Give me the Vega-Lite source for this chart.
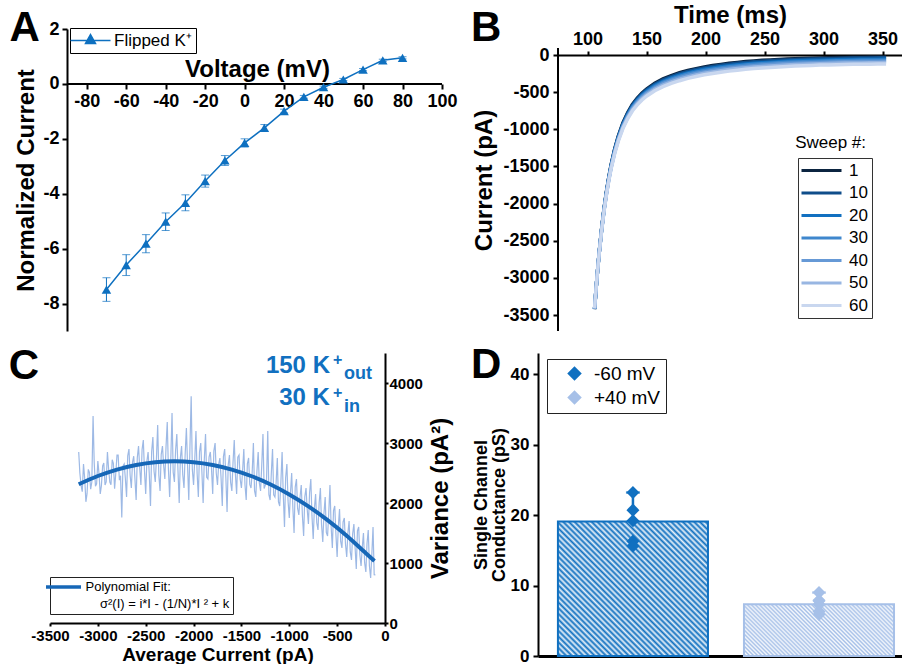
{
"$schema": "https://vega.github.io/schema/vega-lite/v6.json",
"padding": {"left": 8, "top": 3, "right": 0, "bottom": 0},
"autosize": {"type": "pad"},
"background": "white",
"spacing": 12,
"resolve": {"scale": {"color": "independent"}, "legend": {"color": "independent"}},
"config": {
  "font": "Liberation Sans",
  "view": {"stroke": null},
  "axis": {"labelFont": "Liberation Sans", "titleFont": "Liberation Sans", "labelFontWeight": "bold", "titleFontWeight": "bold", "labelColor": "black", "titleColor": "black", "domainColor": "black", "tickColor": "black", "domainWidth": 2, "tickWidth": 2, "grid": false, "labelFlush": false, "labelOverlap": false, "labelBound": false},
  "legend": {"labelFont": "Liberation Sans", "labelColor": "black", "labelFontWeight": "normal"},
  "text": {"font": "Liberation Sans"}
},
"datasets": {
  "iv": [{"V":-70,"I":-7.49,"err":0.43},{"V":-60,"I":-6.6,"err":0.38},{"V":-50,"I":-5.82,"err":0.33},{"V":-40,"I":-5.02,"err":0.32},{"V":-30,"I":-4.33,"err":0.29},{"V":-20,"I":-3.54,"err":0.22},{"V":-10,"I":-2.79,"err":0.18},{"V":0,"I":-2.15,"err":0.15},{"V":10,"I":-1.6,"err":0.12},{"V":20,"I":-0.99,"err":0.07},{"V":30,"I":-0.47,"err":0.05},{"V":40,"I":-0.12,"err":0.04},{"V":50,"I":0.16,"err":0.04},{"V":60,"I":0.52,"err":0.04},{"V":70,"I":0.86,"err":0.04},{"V":80,"I":0.95,"err":0.04}],
  "sweeps": [
    {"t":106,"1":-3420,"10":-3419,"20":-3417,"30":-3415,"40":-3414,"50":-3412,"60":-3410},
    {"t":107,"1":-3202,"10":-3202,"20":-3201,"30":-3201,"40":-3200,"50":-3200,"60":-3199},
    {"t":108,"1":-3000,"10":-3000,"20":-3001,"30":-3001,"40":-3001,"50":-3002,"60":-3002},
    {"t":109,"1":-2815,"10":-2816,"20":-2817,"30":-2819,"40":-2820,"50":-2821,"60":-2823},
    {"t":110,"1":-2643,"10":-2645,"20":-2647,"30":-2649,"40":-2652,"50":-2654,"60":-2657},
    {"t":112,"1":-2336,"10":-2339,"20":-2343,"30":-2346,"40":-2350,"50":-2354,"60":-2359},
    {"t":114,"1":-2070,"10":-2074,"20":-2080,"30":-2084,"40":-2090,"50":-2096,"60":-2102},
    {"t":116,"1":-1845,"10":-1850,"20":-1857,"30":-1863,"40":-1870,"50":-1877,"60":-1885},
    {"t":118,"1":-1648,"10":-1654,"20":-1662,"30":-1669,"40":-1677,"50":-1686,"60":-1695},
    {"t":120,"1":-1478,"10":-1484,"20":-1494,"30":-1502,"40":-1511,"50":-1520,"60":-1531},
    {"t":123,"1":-1269,"10":-1276,"20":-1287,"30":-1296,"40":-1306,"50":-1317,"60":-1329},
    {"t":126,"1":-1096,"10":-1104,"20":-1116,"30":-1127,"40":-1138,"50":-1150,"60":-1164},
    {"t":130,"1":-915,"10":-924,"20":-937,"30":-949,"40":-962,"50":-975,"60":-990},
    {"t":134,"1":-777,"10":-787,"20":-802,"30":-814,"40":-828,"50":-843,"60":-859},
    {"t":138,"1":-667,"10":-677,"20":-693,"30":-706,"40":-721,"50":-737,"60":-754},
    {"t":142,"1":-583,"10":-594,"20":-611,"30":-624,"40":-640,"50":-657,"60":-675},
    {"t":146,"1":-514,"10":-525,"20":-543,"30":-557,"40":-573,"50":-590,"60":-609},
    {"t":150,"1":-458,"10":-470,"20":-487,"30":-502,"40":-518,"50":-536,"60":-555},
    {"t":157,"1":-381,"10":-393,"20":-411,"30":-426,"40":-444,"50":-462,"60":-482},
    {"t":164,"1":-322,"10":-334,"20":-353,"30":-369,"40":-386,"50":-405,"60":-426},
    {"t":171,"1":-277,"10":-290,"20":-309,"30":-324,"40":-342,"50":-361,"60":-382},
    {"t":178,"1":-239,"10":-252,"20":-271,"30":-287,"40":-305,"50":-325,"60":-346},
    {"t":185,"1":-208,"10":-221,"20":-240,"30":-256,"40":-274,"50":-294,"60":-315},
    {"t":192,"1":-183,"10":-196,"20":-215,"30":-231,"40":-249,"50":-269,"60":-290},
    {"t":199,"1":-161,"10":-174,"20":-193,"30":-209,"40":-227,"50":-246,"60":-267},
    {"t":206,"1":-142,"10":-155,"20":-174,"30":-190,"40":-208,"50":-227,"60":-248},
    {"t":213,"1":-126,"10":-139,"20":-158,"30":-174,"40":-192,"50":-211,"60":-232},
    {"t":220,"1":-112,"10":-125,"20":-144,"30":-159,"40":-177,"50":-196,"60":-217},
    {"t":227,"1":-100,"10":-112,"20":-131,"30":-147,"40":-164,"50":-183,"60":-204},
    {"t":234,"1":-89,"10":-101,"20":-120,"30":-136,"40":-153,"50":-172,"60":-193},
    {"t":241,"1":-80,"10":-92,"20":-111,"30":-126,"40":-144,"50":-162,"60":-183},
    {"t":248,"1":-72,"10":-84,"20":-103,"30":-118,"40":-136,"50":-154,"60":-175},
    {"t":255,"1":-66,"10":-78,"20":-96,"30":-111,"40":-129,"50":-147,"60":-167},
    {"t":262,"1":-60,"10":-72,"20":-90,"30":-105,"40":-122,"50":-140,"60":-160},
    {"t":269,"1":-54,"10":-66,"20":-84,"30":-99,"40":-116,"50":-134,"60":-154},
    {"t":276,"1":-50,"10":-62,"20":-79,"30":-94,"40":-111,"50":-128,"60":-148},
    {"t":283,"1":-46,"10":-58,"20":-75,"30":-90,"40":-107,"50":-124,"60":-144},
    {"t":290,"1":-43,"10":-55,"20":-72,"30":-87,"40":-103,"50":-121,"60":-140},
    {"t":297,"1":-40,"10":-52,"20":-69,"30":-83,"40":-100,"50":-117,"60":-136},
    {"t":304,"1":-37,"10":-49,"20":-66,"30":-80,"40":-97,"50":-114,"60":-133},
    {"t":311,"1":-35,"10":-46,"20":-64,"30":-78,"40":-94,"50":-111,"60":-130},
    {"t":318,"1":-33,"10":-44,"20":-62,"30":-76,"40":-92,"50":-109,"60":-128},
    {"t":325,"1":-31,"10":-42,"20":-60,"30":-74,"40":-90,"50":-107,"60":-126},
    {"t":332,"1":-29,"10":-41,"20":-58,"30":-72,"40":-89,"50":-106,"60":-125},
    {"t":339,"1":-28,"10":-39,"20":-57,"30":-71,"40":-87,"50":-104,"60":-123},
    {"t":346,"1":-27,"10":-38,"20":-56,"30":-70,"40":-86,"50":-103,"60":-122},
    {"t":353,"1":-26,"10":-37,"20":-55,"30":-69,"40":-85,"50":-102,"60":-121}
  ],
  "noise": [
    {"I":-3200,"v":2850},{"I":-3175,"v":2290},{"I":-3150,"v":2650},{"I":-3125,"v":2020},{"I":-3100,"v":2560},{"I":-3075,"v":2230},{"I":-3050,"v":3450},{"I":-3025,"v":2280},{"I":-3000,"v":2700},{"I":-2975,"v":2150},
    {"I":-2950,"v":2620},{"I":-2925,"v":2300},{"I":-2900,"v":2850},{"I":-2875,"v":2350},{"I":-2850,"v":2720},{"I":-2825,"v":2240},{"I":-2800,"v":2800},{"I":-2775,"v":2380},{"I":-2750,"v":1760},{"I":-2725,"v":2650},
    {"I":-2700,"v":2100},{"I":-2675,"v":2900},{"I":-2650,"v":2250},{"I":-2625,"v":2780},{"I":-2600,"v":2050},{"I":-2575,"v":2950},{"I":-2550,"v":2300},{"I":-2525,"v":3050},{"I":-2500,"v":2150},{"I":-2475,"v":2850},
    {"I":-2450,"v":1950},{"I":-2425,"v":3100},{"I":-2400,"v":2350},{"I":-2375,"v":3300},{"I":-2350,"v":2200},{"I":-2325,"v":2950},{"I":-2300,"v":2400},{"I":-2275,"v":3350},{"I":-2250,"v":2100},{"I":-2225,"v":3500},
    {"I":-2200,"v":2350},{"I":-2175,"v":3150},{"I":-2150,"v":2000},{"I":-2125,"v":2950},{"I":-2100,"v":2250},{"I":-2075,"v":3250},{"I":-2050,"v":2050},{"I":-2025,"v":3780},{"I":-2000,"v":2300},{"I":-1975,"v":3200},
    {"I":-1950,"v":2100},{"I":-1925,"v":3000},{"I":-1900,"v":2000},{"I":-1875,"v":3150},{"I":-1850,"v":2400},{"I":-1825,"v":2850},{"I":-1800,"v":2150},{"I":-1775,"v":3000},{"I":-1750,"v":2300},{"I":-1725,"v":2750},
    {"I":-1700,"v":1950},{"I":-1675,"v":2900},{"I":-1650,"v":1850},{"I":-1625,"v":2800},{"I":-1600,"v":2200},{"I":-1575,"v":3050},{"I":-1550,"v":2150},{"I":-1525,"v":2800},{"I":-1500,"v":2250},{"I":-1475,"v":2900},
    {"I":-1450,"v":2050},{"I":-1425,"v":2750},{"I":-1400,"v":2250},{"I":-1375,"v":3000},{"I":-1350,"v":2100},{"I":-1325,"v":2850},{"I":-1300,"v":2200},{"I":-1275,"v":3150},{"I":-1250,"v":2300},{"I":-1225,"v":3200},
    {"I":-1200,"v":2050},{"I":-1175,"v":2900},{"I":-1150,"v":2100},{"I":-1125,"v":2750},{"I":-1100,"v":1950},{"I":-1075,"v":2850},{"I":-1050,"v":1600},{"I":-1025,"v":2650},{"I":-1000,"v":1750},{"I":-975,"v":2500},
    {"I":-950,"v":1500},{"I":-925,"v":2400},{"I":-900,"v":1800},{"I":-875,"v":2300},{"I":-850,"v":1450},{"I":-825,"v":2250},{"I":-800,"v":1650},{"I":-775,"v":2400},{"I":-750,"v":1400},{"I":-725,"v":2150},
    {"I":-700,"v":1550},{"I":-675,"v":2250},{"I":-650,"v":1350},{"I":-625,"v":2100},{"I":-600,"v":1450},{"I":-575,"v":2300},{"I":-550,"v":1250},{"I":-525,"v":1950},{"I":-500,"v":1100},{"I":-475,"v":1900},
    {"I":-450,"v":1250},{"I":-425,"v":1750},{"I":-400,"v":1100},{"I":-375,"v":1700},{"I":-350,"v":1050},{"I":-325,"v":1650},{"I":-300,"v":900},{"I":-275,"v":1600},{"I":-250,"v":950},{"I":-225,"v":1500},
    {"I":-200,"v":850},{"I":-175,"v":1550},{"I":-150,"v":750},{"I":-125,"v":1600},{"I":-100,"v":800},
    {"I":-3188,"v":2500},{"I":-3163,"v":2190},{"I":-3138,"v":2420},{"I":-3113,"v":2155},{"I":-3088,"v":2510},{"I":-3063,"v":2350},{"I":-3038,"v":2665},{"I":-3013,"v":2320},{"I":-2988,"v":2490},{"I":-2963,"v":2290},
    {"I":-2938,"v":2665},{"I":-2913,"v":2350},{"I":-2888,"v":2575},{"I":-2863,"v":2305},{"I":-2838,"v":2660},{"I":-2813,"v":2490},{"I":-2788,"v":2800},{"I":-2763,"v":2455},{"I":-2738,"v":2615},{"I":-2713,"v":2415},
    {"I":-2688,"v":2785},{"I":-2663,"v":2465},{"I":-2638,"v":2680},{"I":-2613,"v":2410},{"I":-2588,"v":2755},{"I":-2563,"v":2585},{"I":-2538,"v":2890},{"I":-2513,"v":2540},{"I":-2488,"v":2695},{"I":-2463,"v":2490},
    {"I":-2438,"v":2855},{"I":-2413,"v":2530},{"I":-2388,"v":2740},{"I":-2363,"v":2465},{"I":-2338,"v":2810},{"I":-2313,"v":2630},{"I":-2288,"v":2930},{"I":-2263,"v":2575},{"I":-2238,"v":2725},{"I":-2213,"v":2515},
    {"I":-2188,"v":2875},{"I":-2163,"v":2545},{"I":-2138,"v":2755},{"I":-2113,"v":2470},{"I":-2088,"v":2810},{"I":-2063,"v":2630},{"I":-2038,"v":2925},{"I":-2013,"v":2560},{"I":-1988,"v":2710},{"I":-1963,"v":2495},
    {"I":-1938,"v":2850},{"I":-1913,"v":2515},{"I":-1888,"v":2720},{"I":-1863,"v":2430},{"I":-1838,"v":2765},{"I":-1813,"v":2580},{"I":-1788,"v":2870},{"I":-1763,"v":2500},{"I":-1738,"v":2645},{"I":-1713,"v":2425},
    {"I":-1688,"v":2775},{"I":-1663,"v":2435},{"I":-1638,"v":2635},{"I":-1613,"v":2345},{"I":-1588,"v":2670},{"I":-1563,"v":2480},{"I":-1538,"v":2765},{"I":-1513,"v":2395},{"I":-1488,"v":2530},{"I":-1463,"v":2305},
    {"I":-1438,"v":2655},{"I":-1413,"v":2310},{"I":-1388,"v":2500},{"I":-1363,"v":2205},{"I":-1338,"v":2530},{"I":-1313,"v":2335},{"I":-1288,"v":2615},{"I":-1263,"v":2240},{"I":-1238,"v":2370},{"I":-1213,"v":2140},
    {"I":-1188,"v":2485},{"I":-1163,"v":2135},{"I":-1138,"v":2325},{"I":-1113,"v":2020},{"I":-1088,"v":2340},{"I":-1063,"v":2140},{"I":-1038,"v":2420},{"I":-1013,"v":2035},{"I":-988,"v":2160},{"I":-963,"v":1930},
    {"I":-938,"v":2265},{"I":-913,"v":1910},{"I":-888,"v":2095},{"I":-863,"v":1790},{"I":-838,"v":2105},{"I":-813,"v":1900},{"I":-788,"v":2170},{"I":-763,"v":1785},{"I":-738,"v":1905},{"I":-713,"v":1670},
    {"I":-688,"v":2000},{"I":-663,"v":1640},{"I":-638,"v":1820},{"I":-613,"v":1510},{"I":-588,"v":1820},{"I":-563,"v":1610},{"I":-538,"v":1875},{"I":-513,"v":1485},{"I":-488,"v":1600},{"I":-463,"v":1360},
    {"I":-438,"v":1685},{"I":-413,"v":1320},{"I":-388,"v":1495},{"I":-363,"v":1185},{"I":-338,"v":1485},{"I":-313,"v":1270},{"I":-288,"v":1535},{"I":-263,"v":1140},{"I":-238,"v":1250},{"I":-213,"v":1005},
    {"I":-188,"v":1325},{"I":-163,"v":955},{"I":-138,"v":1125},{"I":-113,"v":805}
  ],
  "fit": [{"I":-3200,"v":2312},{"I":-3000,"v":2450},{"I":-2800,"v":2557},{"I":-2600,"v":2634},{"I":-2400,"v":2680},{"I":-2200,"v":2695},{"I":-2000,"v":2680},{"I":-1800,"v":2634},{"I":-1600,"v":2557},{"I":-1400,"v":2450},{"I":-1200,"v":2312},{"I":-1000,"v":2143},{"I":-800,"v":1944},{"I":-600,"v":1714},{"I":-400,"v":1454},{"I":-200,"v":1163},{"I":-110,"v":1035}],
  "bars": [{"cond":"-60 mV","mean":19.1,"upper":23.2},{"cond":"+40 mV","mean":7.35,"upper":9.0}],
  "pts": [{"cond":"-60 mV","g":23.2},{"cond":"-60 mV","g":20.7},{"cond":"-60 mV","g":19.2},{"cond":"-60 mV","g":16.3},{"cond":"-60 mV","g":15.6},{"cond":"+40 mV","g":9.0},{"cond":"+40 mV","g":7.3},{"cond":"+40 mV","g":7.8},{"cond":"+40 mV","g":5.9},{"cond":"+40 mV","g":6.3},{"cond":"+40 mV","g":7.9}]
},
"vconcat": [
 {"bounds": "flush", "spacing": 116, "resolve": {"scale": {"color": "independent"}, "legend": {"color": "independent"}}, "hconcat": [
  {"width": 392, "height": 302,
   "layer": [
    {"data": {"values": [{}]}, "mark": {"type": "rule", "color": "black", "strokeWidth": 2},
     "encoding": {"x": {"datum": -90, "type": "quantitative"}, "x2": {"datum": 100}, "y": {"datum": 0, "type": "quantitative"}}},
    {"data": {"name": "iv"}, "mark": {"type": "errorbar", "color": "#0e70c0", "ticks": {"size": 8}},
     "encoding": {"x": {"field": "V", "type": "quantitative", "title": "Voltage (mV)"}, "y": {"field": "I", "type": "quantitative", "title": "Normalized Current"}, "yError": {"field": "err"}}},
    {"data": {"name": "iv"}, "mark": {"type": "line", "color": "#0e70c0", "strokeWidth": 1.5},
     "encoding": {
      "x": {"field": "V", "type": "quantitative", "scale": {"domain": [-98.6, 100], "nice": false, "zero": false},
        "axis": {"orient": "bottom", "offset": -247, "domain": false, "values": [-80,-70,-60,-50,-40,-30,-20,-10,0,10,20,30,40,50,60,70,80,90,100], "labelExpr": "datum.value % 20 == 0 ? '' + datum.value : ''", "tickSize": 5, "labelPadding": 3, "labelFontSize": 18, "title": "Voltage (mV)", "titleFontSize": 24, "titleX": 207, "titleY": -8, "titleBaseline": "alphabetic"}},
      "y": {"field": "I", "type": "quantitative", "scale": {"domain": [-9, 2], "nice": false, "zero": false},
        "axis": {"orient": "left", "offset": -17, "values": [2,1,0,-1,-2,-3,-4,-5,-6,-7,-8], "labelExpr": "datum.value % 2 == 0 ? '' + datum.value : ''", "tickSize": 5, "labelPadding": 3, "labelFontSize": 18, "title": "Normalized Current", "titleFontSize": 24, "titlePadding": 4}}}},
    {"data": {"name": "iv"}, "mark": {"type": "point", "shape": "triangle-up", "filled": true, "size": 90, "opacity": 1},
     "encoding": {"x": {"field": "V", "type": "quantitative", "title": "Voltage (mV)"}, "y": {"field": "I", "type": "quantitative", "title": "Normalized Current"},
      "color": {"datum": "Flipped K⁺", "type": "nominal", "scale": {"domain": ["Flipped K⁺"], "range": ["#0e70c0"]},
       "legend": {"orient": "none", "legendX": 20, "legendY": -1, "title": null, "strokeColor": "black", "padding": 4, "symbolType": "M -4 0 L 4 0 M 0 -1.2 L 1 0.6 L -1 0.6 Z", "symbolSize": 100, "symbolOffset": 8, "symbolStrokeWidth": 1.5, "symbolStrokeColor": "#0e70c0", "symbolFillColor": "#0e70c0", "labelFontSize": 17, "labelOffset": 15,
        "encode": {"symbols": {"update": {"stroke": {"value": "#0e70c0"}, "fill": {"value": "#0e70c0"}, "opacity": {"value": 1}}}}}}}},
    {"data": {"values": [{}]}, "mark": {"type": "text", "text": "A", "fontSize": 42, "fontWeight": "bold", "align": "left", "baseline": "alphabetic", "color": "black"},
     "encoding": {"x": {"datum": -119.1, "type": "quantitative"}, "y": {"datum": 1.563, "type": "quantitative"}}}
   ]},
  {"width": 344, "height": 302,
   "layer": [
    {"data": {"values": [{}]}, "mark": {"type": "rule", "color": "black", "strokeWidth": 2},
     "encoding": {"x": {"datum": 75, "type": "quantitative"}, "y": {"datum": -3715, "type": "quantitative"}, "y2": {"datum": 94}}},
    {"data": {"name": "sweeps"}, "transform": [{"fold": ["1","10","20","30","40","50","60"], "as": ["sweep","current"]}],
     "mark": {"type": "line", "strokeWidth": 3.5},
     "encoding": {
      "x": {"field": "t", "type": "quantitative", "scale": {"domain": [75, 366.5], "nice": false, "zero": false},
        "axis": {"orient": "top", "offset": -26, "values": [100,125,150,175,200,225,250,275,300,325,350], "labelExpr": "datum.value % 50 == 0 ? '' + datum.value : ''", "tickSize": 4, "labelPadding": 3, "labelFontSize": 18, "title": "Time (ms)", "titleFontSize": 24, "titlePadding": 3}},
      "y": {"field": "current", "type": "quantitative", "scale": {"domain": [-3715, 350], "nice": false, "zero": false},
        "axis": {"orient": "left", "domain": false, "values": [0,-250,-500,-750,-1000,-1250,-1500,-1750,-2000,-2250,-2500,-2750,-3000,-3250,-3500], "labelExpr": "datum.value % 500 == 0 ? '' + datum.value : ''", "tickSize": 5, "labelPadding": 4, "labelFontSize": 18, "title": "Current (pA)", "titleFontSize": 24, "titlePadding": 6}},
      "color": {"field": "sweep", "type": "nominal", "scale": {"domain": ["1","10","20","30","40","50","60"], "range": ["#0b2440","#0f4d8a","#1170c0","#3f87cd","#6699d6","#98b6e2","#c9d7ef"]},
        "legend": {"orient": "none", "legendX": 240, "legendY": 129, "title": null, "strokeColor": "#333333", "padding": 4, "symbolType": "M -4 0 L 4 0", "symbolSize": 100, "symbolOffset": 11, "symbolStrokeWidth": 3, "labelFontSize": 17, "labelOffset": 19, "rowPadding": 4.5}}}},
    {"data": {"values": [{}]}, "mark": {"type": "text", "text": "Sweep #:", "fontSize": 17, "align": "center", "baseline": "alphabetic", "color": "black"},
     "encoding": {"x": {"datum": 306, "type": "quantitative"}, "y": {"datum": -1252, "type": "quantitative"}}},
    {"data": {"values": [{}]}, "mark": {"type": "text", "text": "B", "fontSize": 42, "fontWeight": "bold", "align": "left", "baseline": "alphabetic", "color": "black"},
     "encoding": {"x": {"datum": 1.3, "type": "quantitative"}, "y": {"datum": 188, "type": "quantitative"}}}
   ]}
 ]},
 {"bounds": "flush", "spacing": 153, "resolve": {"scale": {"color": "independent"}, "legend": {"color": "independent"}}, "hconcat": [
  {"width": 335, "height": 270,
   "layer": [
    {"data": {"name": "noise"}, "mark": {"type": "line", "color": "#9db9e5", "strokeWidth": 1.2},
     "encoding": {
      "x": {"field": "I", "type": "quantitative", "scale": {"domain": [-3500, 0], "nice": false, "zero": false},
        "axis": {"orient": "bottom", "values": [-3500,-3250,-3000,-2750,-2500,-2250,-2000,-1750,-1500,-1250,-1000,-750,-500,-250,0], "labelExpr": "datum.value % 500 == 0 ? '' + datum.value : ''", "tickSize": 3, "labelPadding": 2, "labelFontSize": 15, "title": "Average Current (pA)", "titleFontSize": 19, "titleY": 37, "titleBaseline": "alphabetic"}},
      "y": {"field": "v", "type": "quantitative", "scale": {"domain": [0, 4500], "nice": false, "zero": false},
        "axis": {"orient": "right", "values": [0,500,1000,1500,2000,2500,3000,3500,4000], "labelExpr": "datum.value % 1000 == 0 ? '' + datum.value : ''", "tickSize": 3, "labelPadding": 1, "labelFontSize": 15, "title": "Variance (pA²)", "titleFontSize": 24, "titleAngle": 270, "titleBaseline": "top", "titleY": 145, "titlePadding": 6}}}},
    {"data": {"name": "fit"}, "mark": {"type": "line", "strokeWidth": 4, "interpolate": "monotone"},
     "encoding": {"x": {"field": "I", "type": "quantitative", "title": "Average Current (pA)"}, "y": {"field": "v", "type": "quantitative", "title": "Variance (pA²)"},
      "color": {"datum": "Polynomial Fit:", "type": "nominal", "scale": {"domain": ["Polynomial Fit:", "\u200b\u00a0\u00a0\u00a0\u00a0σ²(I) = i*I - (1/N)*I ² + k"], "range": ["#1667b7", "rgba(0,0,0,0)"]},
        "legend": {"orient": "none", "legendX": 0, "legendY": 224, "title": null, "strokeColor": "#222222", "padding": 3, "symbolType": "M -3.5 0 L 3.5 0", "symbolSize": 100, "symbolOffset": 3.5, "symbolStrokeWidth": 3.5, "labelFontSize": 13, "labelOffset": 15, "rowPadding": 3, "labelLimit": 300}}}},
    {"data": {"values": [{}]}, "mark": {"type": "text", "text": "150 K", "fontSize": 24, "fontWeight": "bold", "align": "right", "baseline": "alphabetic", "color": "#1170c0"},
     "encoding": {"x": {"datum": -575, "type": "quantitative"}, "y": {"datum": 4160, "type": "quantitative"}}},
    {"data": {"values": [{}]}, "mark": {"type": "text", "text": "+", "fontSize": 16, "fontWeight": "bold", "align": "left", "baseline": "alphabetic", "color": "#1170c0"},
     "encoding": {"x": {"datum": -544, "type": "quantitative"}, "y": {"datum": 4293, "type": "quantitative"}}},
    {"data": {"values": [{}]}, "mark": {"type": "text", "text": "out", "fontSize": 18, "fontWeight": "bold", "align": "left", "baseline": "alphabetic", "color": "#1170c0"},
     "encoding": {"x": {"datum": -429, "type": "quantitative"}, "y": {"datum": 4060, "type": "quantitative"}}},
    {"data": {"values": [{}]}, "mark": {"type": "text", "text": "30 K", "fontSize": 24, "fontWeight": "bold", "align": "right", "baseline": "alphabetic", "color": "#1170c0"},
     "encoding": {"x": {"datum": -575, "type": "quantitative"}, "y": {"datum": 3640, "type": "quantitative"}}},
    {"data": {"values": [{}]}, "mark": {"type": "text", "text": "+", "fontSize": 16, "fontWeight": "bold", "align": "left", "baseline": "alphabetic", "color": "#1170c0"},
     "encoding": {"x": {"datum": -544, "type": "quantitative"}, "y": {"datum": 3758, "type": "quantitative"}}},
    {"data": {"values": [{}]}, "mark": {"type": "text", "text": "in", "fontSize": 18, "fontWeight": "bold", "align": "left", "baseline": "alphabetic", "color": "#1170c0"},
     "encoding": {"x": {"datum": -429, "type": "quantitative"}, "y": {"datum": 3512, "type": "quantitative"}}},
    {"data": {"values": [{}]}, "mark": {"type": "text", "text": "C", "fontSize": 42, "fontWeight": "bold", "align": "left", "baseline": "alphabetic", "color": "black"},
     "encoding": {"x": {"datum": -3930, "type": "quantitative"}, "y": {"datum": 4075, "type": "quantitative"}}}
   ]},
  {"width": 364, "height": 303,
   "layer": [
    {"data": {"name": "bars"}, "mark": {"type": "bar"},
     "encoding": {
      "x": {"field": "cond", "type": "nominal", "scale": {"type": "band", "domain": ["-60 mV", "+40 mV"], "paddingInner": 0.1935, "paddingOuter": 0.075, "align": 0.714},
        "axis": {"orient": "bottom", "labels": false, "ticks": false, "title": null, "domainWidth": 3}},
      "y": {"field": "mean", "type": "quantitative", "scale": {"domain": [0, 43], "nice": false, "zero": false},
        "axis": {"orient": "left", "values": [0,5,10,15,20,25,30,35,40], "labelExpr": "datum.value % 10 == 0 ? '' + datum.value : ''", "tickSize": 5, "labelPadding": 4, "labelFontSize": 17, "title": ["Single Channel", "Conductance (pS)"], "titleFontSize": 18, "titleLineHeight": 18, "titlePadding": 2}},
      "fill": {"condition": {"test": "datum.cond === '-60 mV'", "value": "#1070c0"}, "value": "#a6c0e8"}}},
    {"data": {"name": "bars"}, "transform": [{"filter": "datum.cond === '-60 mV'"}],
     "mark": {"type": "bar", "stroke": "#1070c0", "strokeWidth": 2, "fill": {"gradient": "linear", "x1": -0.497, "y1": 0.446, "x2": 0.554, "y2": -0.497, "stops": [
      {"offset":0,"color":"rgba(255,255,255,0.9)"},{"offset":0.01,"color":"rgba(255,255,255,0)"},{"offset":0.02,"color":"rgba(255,255,255,0.9)"},{"offset":0.03,"color":"rgba(255,255,255,0)"},{"offset":0.04,"color":"rgba(255,255,255,0.9)"},{"offset":0.05,"color":"rgba(255,255,255,0)"},{"offset":0.06,"color":"rgba(255,255,255,0.9)"},{"offset":0.07,"color":"rgba(255,255,255,0)"},{"offset":0.08,"color":"rgba(255,255,255,0.9)"},{"offset":0.09,"color":"rgba(255,255,255,0)"},
      {"offset":0.1,"color":"rgba(255,255,255,0.9)"},{"offset":0.11,"color":"rgba(255,255,255,0)"},{"offset":0.12,"color":"rgba(255,255,255,0.9)"},{"offset":0.13,"color":"rgba(255,255,255,0)"},{"offset":0.14,"color":"rgba(255,255,255,0.9)"},{"offset":0.15,"color":"rgba(255,255,255,0)"},{"offset":0.16,"color":"rgba(255,255,255,0.9)"},{"offset":0.17,"color":"rgba(255,255,255,0)"},{"offset":0.18,"color":"rgba(255,255,255,0.9)"},{"offset":0.19,"color":"rgba(255,255,255,0)"},
      {"offset":0.2,"color":"rgba(255,255,255,0.9)"},{"offset":0.21,"color":"rgba(255,255,255,0)"},{"offset":0.22,"color":"rgba(255,255,255,0.9)"},{"offset":0.23,"color":"rgba(255,255,255,0)"},{"offset":0.24,"color":"rgba(255,255,255,0.9)"},{"offset":0.25,"color":"rgba(255,255,255,0)"},{"offset":0.26,"color":"rgba(255,255,255,0.9)"},{"offset":0.27,"color":"rgba(255,255,255,0)"},{"offset":0.28,"color":"rgba(255,255,255,0.9)"},{"offset":0.29,"color":"rgba(255,255,255,0)"},
      {"offset":0.3,"color":"rgba(255,255,255,0.9)"},{"offset":0.31,"color":"rgba(255,255,255,0)"},{"offset":0.32,"color":"rgba(255,255,255,0.9)"},{"offset":0.33,"color":"rgba(255,255,255,0)"},{"offset":0.34,"color":"rgba(255,255,255,0.9)"},{"offset":0.35,"color":"rgba(255,255,255,0)"},{"offset":0.36,"color":"rgba(255,255,255,0.9)"},{"offset":0.37,"color":"rgba(255,255,255,0)"},{"offset":0.38,"color":"rgba(255,255,255,0.9)"},{"offset":0.39,"color":"rgba(255,255,255,0)"},
      {"offset":0.4,"color":"rgba(255,255,255,0.9)"},{"offset":0.41,"color":"rgba(255,255,255,0)"},{"offset":0.42,"color":"rgba(255,255,255,0.9)"},{"offset":0.43,"color":"rgba(255,255,255,0)"},{"offset":0.44,"color":"rgba(255,255,255,0.9)"},{"offset":0.45,"color":"rgba(255,255,255,0)"},{"offset":0.46,"color":"rgba(255,255,255,0.9)"},{"offset":0.47,"color":"rgba(255,255,255,0)"},{"offset":0.48,"color":"rgba(255,255,255,0.9)"},{"offset":0.49,"color":"rgba(255,255,255,0)"},
      {"offset":0.5,"color":"rgba(255,255,255,0.9)"},{"offset":0.51,"color":"rgba(255,255,255,0)"},{"offset":0.52,"color":"rgba(255,255,255,0.9)"},{"offset":0.53,"color":"rgba(255,255,255,0)"},{"offset":0.54,"color":"rgba(255,255,255,0.9)"},{"offset":0.55,"color":"rgba(255,255,255,0)"},{"offset":0.56,"color":"rgba(255,255,255,0.9)"},{"offset":0.57,"color":"rgba(255,255,255,0)"},{"offset":0.58,"color":"rgba(255,255,255,0.9)"},{"offset":0.59,"color":"rgba(255,255,255,0)"},
      {"offset":0.6,"color":"rgba(255,255,255,0.9)"},{"offset":0.61,"color":"rgba(255,255,255,0)"},{"offset":0.62,"color":"rgba(255,255,255,0.9)"},{"offset":0.63,"color":"rgba(255,255,255,0)"},{"offset":0.64,"color":"rgba(255,255,255,0.9)"},{"offset":0.65,"color":"rgba(255,255,255,0)"},{"offset":0.66,"color":"rgba(255,255,255,0.9)"},{"offset":0.67,"color":"rgba(255,255,255,0)"},{"offset":0.68,"color":"rgba(255,255,255,0.9)"},{"offset":0.69,"color":"rgba(255,255,255,0)"},
      {"offset":0.7,"color":"rgba(255,255,255,0.9)"},{"offset":0.71,"color":"rgba(255,255,255,0)"},{"offset":0.72,"color":"rgba(255,255,255,0.9)"},{"offset":0.73,"color":"rgba(255,255,255,0)"},{"offset":0.74,"color":"rgba(255,255,255,0.9)"},{"offset":0.75,"color":"rgba(255,255,255,0)"},{"offset":0.76,"color":"rgba(255,255,255,0.9)"},{"offset":0.77,"color":"rgba(255,255,255,0)"},{"offset":0.78,"color":"rgba(255,255,255,0.9)"},{"offset":0.79,"color":"rgba(255,255,255,0)"},
      {"offset":0.8,"color":"rgba(255,255,255,0.9)"},{"offset":0.81,"color":"rgba(255,255,255,0)"},{"offset":0.82,"color":"rgba(255,255,255,0.9)"},{"offset":0.83,"color":"rgba(255,255,255,0)"},{"offset":0.84,"color":"rgba(255,255,255,0.9)"},{"offset":0.85,"color":"rgba(255,255,255,0)"},{"offset":0.86,"color":"rgba(255,255,255,0.9)"},{"offset":0.87,"color":"rgba(255,255,255,0)"},{"offset":0.88,"color":"rgba(255,255,255,0.9)"},{"offset":0.89,"color":"rgba(255,255,255,0)"},
      {"offset":0.9,"color":"rgba(255,255,255,0.9)"},{"offset":0.91,"color":"rgba(255,255,255,0)"},{"offset":0.92,"color":"rgba(255,255,255,0.9)"},{"offset":0.93,"color":"rgba(255,255,255,0)"},{"offset":0.94,"color":"rgba(255,255,255,0.9)"},{"offset":0.95,"color":"rgba(255,255,255,0)"},{"offset":0.96,"color":"rgba(255,255,255,0.9)"},{"offset":0.97,"color":"rgba(255,255,255,0)"},{"offset":0.98,"color":"rgba(255,255,255,0.9)"},{"offset":0.99,"color":"rgba(255,255,255,0)"},
      {"offset":1,"color":"rgba(255,255,255,0.9)"}]}},
     "encoding": {"x": {"field": "cond", "type": "nominal"}, "y": {"field": "mean", "type": "quantitative"}}},
    {"data": {"name": "bars"}, "transform": [{"filter": "datum.cond === '+40 mV'"}],
     "mark": {"type": "bar", "stroke": "#a6c0e8", "strokeWidth": 2, "fill": {"gradient": "linear", "x1": -0.308, "y1": 0.106, "x2": 0.894, "y2": -0.308, "stops": [
      {"offset":0,"color":"rgba(255,255,255,0.9)"},{"offset":0.01,"color":"rgba(255,255,255,0)"},{"offset":0.02,"color":"rgba(255,255,255,0.9)"},{"offset":0.03,"color":"rgba(255,255,255,0)"},{"offset":0.04,"color":"rgba(255,255,255,0.9)"},{"offset":0.05,"color":"rgba(255,255,255,0)"},{"offset":0.06,"color":"rgba(255,255,255,0.9)"},{"offset":0.07,"color":"rgba(255,255,255,0)"},{"offset":0.08,"color":"rgba(255,255,255,0.9)"},{"offset":0.09,"color":"rgba(255,255,255,0)"},
      {"offset":0.1,"color":"rgba(255,255,255,0.9)"},{"offset":0.11,"color":"rgba(255,255,255,0)"},{"offset":0.12,"color":"rgba(255,255,255,0.9)"},{"offset":0.13,"color":"rgba(255,255,255,0)"},{"offset":0.14,"color":"rgba(255,255,255,0.9)"},{"offset":0.15,"color":"rgba(255,255,255,0)"},{"offset":0.16,"color":"rgba(255,255,255,0.9)"},{"offset":0.17,"color":"rgba(255,255,255,0)"},{"offset":0.18,"color":"rgba(255,255,255,0.9)"},{"offset":0.19,"color":"rgba(255,255,255,0)"},
      {"offset":0.2,"color":"rgba(255,255,255,0.9)"},{"offset":0.21,"color":"rgba(255,255,255,0)"},{"offset":0.22,"color":"rgba(255,255,255,0.9)"},{"offset":0.23,"color":"rgba(255,255,255,0)"},{"offset":0.24,"color":"rgba(255,255,255,0.9)"},{"offset":0.25,"color":"rgba(255,255,255,0)"},{"offset":0.26,"color":"rgba(255,255,255,0.9)"},{"offset":0.27,"color":"rgba(255,255,255,0)"},{"offset":0.28,"color":"rgba(255,255,255,0.9)"},{"offset":0.29,"color":"rgba(255,255,255,0)"},
      {"offset":0.3,"color":"rgba(255,255,255,0.9)"},{"offset":0.31,"color":"rgba(255,255,255,0)"},{"offset":0.32,"color":"rgba(255,255,255,0.9)"},{"offset":0.33,"color":"rgba(255,255,255,0)"},{"offset":0.34,"color":"rgba(255,255,255,0.9)"},{"offset":0.35,"color":"rgba(255,255,255,0)"},{"offset":0.36,"color":"rgba(255,255,255,0.9)"},{"offset":0.37,"color":"rgba(255,255,255,0)"},{"offset":0.38,"color":"rgba(255,255,255,0.9)"},{"offset":0.39,"color":"rgba(255,255,255,0)"},
      {"offset":0.4,"color":"rgba(255,255,255,0.9)"},{"offset":0.41,"color":"rgba(255,255,255,0)"},{"offset":0.42,"color":"rgba(255,255,255,0.9)"},{"offset":0.43,"color":"rgba(255,255,255,0)"},{"offset":0.44,"color":"rgba(255,255,255,0.9)"},{"offset":0.45,"color":"rgba(255,255,255,0)"},{"offset":0.46,"color":"rgba(255,255,255,0.9)"},{"offset":0.47,"color":"rgba(255,255,255,0)"},{"offset":0.48,"color":"rgba(255,255,255,0.9)"},{"offset":0.49,"color":"rgba(255,255,255,0)"},
      {"offset":0.5,"color":"rgba(255,255,255,0.9)"},{"offset":0.51,"color":"rgba(255,255,255,0)"},{"offset":0.52,"color":"rgba(255,255,255,0.9)"},{"offset":0.53,"color":"rgba(255,255,255,0)"},{"offset":0.54,"color":"rgba(255,255,255,0.9)"},{"offset":0.55,"color":"rgba(255,255,255,0)"},{"offset":0.56,"color":"rgba(255,255,255,0.9)"},{"offset":0.57,"color":"rgba(255,255,255,0)"},{"offset":0.58,"color":"rgba(255,255,255,0.9)"},{"offset":0.59,"color":"rgba(255,255,255,0)"},
      {"offset":0.6,"color":"rgba(255,255,255,0.9)"},{"offset":0.61,"color":"rgba(255,255,255,0)"},{"offset":0.62,"color":"rgba(255,255,255,0.9)"},{"offset":0.63,"color":"rgba(255,255,255,0)"},{"offset":0.64,"color":"rgba(255,255,255,0.9)"},{"offset":0.65,"color":"rgba(255,255,255,0)"},{"offset":0.66,"color":"rgba(255,255,255,0.9)"},{"offset":0.67,"color":"rgba(255,255,255,0)"},{"offset":0.68,"color":"rgba(255,255,255,0.9)"},{"offset":0.69,"color":"rgba(255,255,255,0)"},
      {"offset":0.7,"color":"rgba(255,255,255,0.9)"},{"offset":0.71,"color":"rgba(255,255,255,0)"},{"offset":0.72,"color":"rgba(255,255,255,0.9)"},{"offset":0.73,"color":"rgba(255,255,255,0)"},{"offset":0.74,"color":"rgba(255,255,255,0.9)"},{"offset":0.75,"color":"rgba(255,255,255,0)"},{"offset":0.76,"color":"rgba(255,255,255,0.9)"},{"offset":0.77,"color":"rgba(255,255,255,0)"},{"offset":0.78,"color":"rgba(255,255,255,0.9)"},{"offset":0.79,"color":"rgba(255,255,255,0)"},
      {"offset":0.8,"color":"rgba(255,255,255,0.9)"},{"offset":0.81,"color":"rgba(255,255,255,0)"},{"offset":0.82,"color":"rgba(255,255,255,0.9)"},{"offset":0.83,"color":"rgba(255,255,255,0)"},{"offset":0.84,"color":"rgba(255,255,255,0.9)"},{"offset":0.85,"color":"rgba(255,255,255,0)"},{"offset":0.86,"color":"rgba(255,255,255,0.9)"},{"offset":0.87,"color":"rgba(255,255,255,0)"},{"offset":0.88,"color":"rgba(255,255,255,0.9)"},{"offset":0.89,"color":"rgba(255,255,255,0)"},
      {"offset":0.9,"color":"rgba(255,255,255,0.9)"},{"offset":0.91,"color":"rgba(255,255,255,0)"},{"offset":0.92,"color":"rgba(255,255,255,0.9)"},{"offset":0.93,"color":"rgba(255,255,255,0)"},{"offset":0.94,"color":"rgba(255,255,255,0.9)"},{"offset":0.95,"color":"rgba(255,255,255,0)"},{"offset":0.96,"color":"rgba(255,255,255,0.9)"},{"offset":0.97,"color":"rgba(255,255,255,0)"},{"offset":0.98,"color":"rgba(255,255,255,0.9)"},{"offset":0.99,"color":"rgba(255,255,255,0)"},
      {"offset":1,"color":"rgba(255,255,255,0.9)"}]}},
     "encoding": {"x": {"field": "cond", "type": "nominal"}, "y": {"field": "mean", "type": "quantitative"}}},
    {"data": {"name": "bars"}, "mark": {"type": "rule", "strokeWidth": 2.5},
     "encoding": {"x": {"field": "cond", "type": "nominal"}, "y": {"field": "mean", "type": "quantitative"}, "y2": {"field": "upper"}, "stroke": {"condition": {"test": "datum.cond === '-60 mV'", "value": "#1070c0"}, "value": "#a6c0e8"}}},
    {"data": {"name": "bars"}, "mark": {"type": "tick", "thickness": 2.5, "size": 14},
     "encoding": {"x": {"field": "cond", "type": "nominal"}, "y": {"field": "upper", "type": "quantitative"}, "fill": {"condition": {"test": "datum.cond === '-60 mV'", "value": "#1070c0"}, "value": "#a6c0e8"}}},
    {"data": {"name": "pts"}, "mark": {"type": "point", "shape": "diamond", "filled": true, "size": 170, "opacity": 1},
     "encoding": {"x": {"field": "cond", "type": "nominal"}, "y": {"field": "g", "type": "quantitative"},
      "color": {"field": "cond", "type": "nominal", "scale": {"domain": ["-60 mV", "+40 mV"], "range": ["#1070c0", "#a6c0e8"]},
        "legend": {"orient": "none", "legendX": 9, "legendY": 6, "title": null, "strokeColor": "#222222", "padding": 5, "symbolType": "diamond", "symbolSize": 210, "symbolOffset": 13, "labelOffset": 10, "labelFontSize": 19, "rowPadding": 4}}}},
    {"data": {"values": [{}]}, "mark": {"type": "text", "text": "D", "fontSize": 42, "fontWeight": "bold", "align": "left", "baseline": "alphabetic", "color": "black", "dx": -162},
     "encoding": {"x": {"datum": "-60 mV", "type": "nominal"}, "y": {"datum": 39.45, "type": "quantitative"}}}
   ]}
 ]}
]
}
